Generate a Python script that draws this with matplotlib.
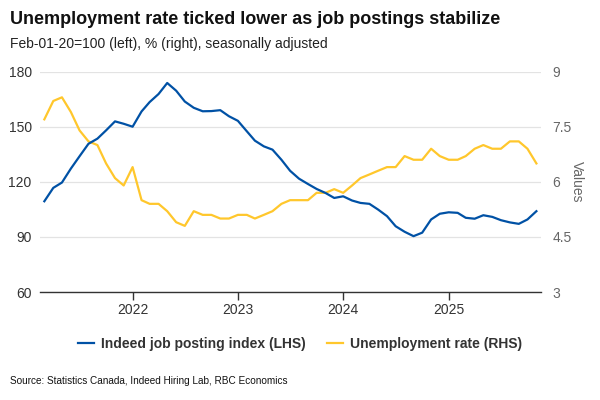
import numpy as np
import pandas as pd
import matplotlib
matplotlib.use("Agg")
import matplotlib.pyplot as plt
import matplotlib.dates as mdates

# monthly, Mar 2021 .. Nov 2025
months = pd.date_range("2021-03-01", periods=57, freq="MS")

job_postings = [109.4, 116.7, 119.6, 127.2, 133.9, 140.7, 143.5, 148.0, 152.9, 151.6,
                150.0, 158.3, 163.4, 167.8, 173.8, 169.6, 163.7, 160.3, 158.4, 158.5,
                159.0, 155.7, 153.2, 147.5, 142.4, 139.3, 137.5, 132.0, 126.0, 121.7,
                118.8, 116.1, 113.9, 111.2, 112.1, 109.8, 108.5, 108.0, 104.9, 101.3,
                95.8, 92.8, 90.4, 92.3, 99.5, 102.6, 103.4, 103.1, 100.4, 99.9,
                101.8, 100.9, 99.1, 97.9, 97.1, 99.5, 104.0]

unemployment = [7.7, 8.2, 8.3, 7.9, 7.4, 7.1, 7.0, 6.5, 6.1, 5.9,
                6.4, 5.5, 5.4, 5.4, 5.2, 4.9, 4.8, 5.2, 5.1, 5.1,
                5.0, 5.0, 5.1, 5.1, 5.0, 5.1, 5.2, 5.4, 5.5, 5.5,
                5.5, 5.7, 5.7, 5.8, 5.7, 5.9, 6.1, 6.2, 6.3, 6.4,
                6.4, 6.7, 6.6, 6.6, 6.9, 6.7, 6.6, 6.6, 6.7, 6.9,
                7.0, 6.9, 6.9, 7.1, 7.1, 6.9, 6.5]

left_ticks = [60, 90, 120, 150, 180]
right_ticks = [3, 4.5, 6, 7.5, 9]
right_labels = ["3", "4.5", "6", "7.5", "9"]
year_ticks = pd.to_datetime(["2022-01-01", "2023-01-01", "2024-01-01", "2025-01-01"])

BLUE = "#0051A5"
YELLOW = "#FFC72C"

plt.rcParams['font.family'] = ['Liberation Sans', 'DejaVu Sans']

fig = plt.figure(figsize=(6, 4), dpi=100)
ax = fig.add_axes([0.0667, 0.27, 0.835, 0.551])
ax2 = ax.twinx()

l1, = ax.plot(months, job_postings, color=BLUE, lw=1.6, label="Indeed job posting index (LHS)")
l2, = ax2.plot(months, unemployment, color=YELLOW, lw=1.6, label="Unemployment rate (RHS)")
ax.set_zorder(ax2.get_zorder() + 1)
ax.patch.set_visible(False)

ax.set_ylim(60, 180)
ax2.set_ylim(3, 9)
ax.set_yticks(left_ticks)
ax2.set_yticks(right_ticks)
ax2.set_yticklabels(right_labels)
ax.set_xlim(pd.Timestamp("2021-02-14"), pd.Timestamp("2025-11-17"))
ax.set_xticks(year_ticks)
ax.xaxis.set_major_formatter(mdates.DateFormatter("%Y"))

ax2.grid(axis="y", color="#e3e3e3", lw=0.9)
ax2.set_axisbelow(True)

for a in (ax, ax2):
    for s in ("top", "left", "right"):
        a.spines[s].set_visible(False)
ax2.spines["bottom"].set_visible(False)
ax.spines["bottom"].set_color("#333333")
ax.spines["bottom"].set_linewidth(1.0)

ax.tick_params(axis="y", length=0, labelsize=10, labelcolor="#333333", pad=6)
ax.tick_params(axis="x", length=6, width=1, color="#333333", labelsize=10,
               labelcolor="#333333", pad=2)
ax2.tick_params(axis="y", length=0, labelsize=10, labelcolor="#666666", pad=8)

ax2.set_ylabel("Values", rotation=270, color="#666666", fontsize=10, labelpad=9)

fig.text(0.017, 0.952, "Unemployment rate ticked lower as job postings stabilize",
         fontsize=13, fontweight="bold", ha="left", va="center", color="#111111")
fig.text(0.017, 0.889, "Feb-01-20=100 (left), % (right), seasonally adjusted",
         fontsize=10, ha="left", va="center", color="#222222")

fig.legend(handles=[l1, l2], loc="center", bbox_to_anchor=(0.5, 0.14), ncol=2,
           frameon=False, handlelength=1.2, columnspacing=1.5,
           handletextpad=0.5, labelcolor="#333333",
           prop={"weight": "bold", "size": 10})

fig.text(0.017, 0.047, "Source: Statistics Canada, Indeed Hiring Lab, RBC Economics",
         fontsize=7.2, ha="left", va="center", color="#111111")

fig.savefig("out.png", dpi=100)
